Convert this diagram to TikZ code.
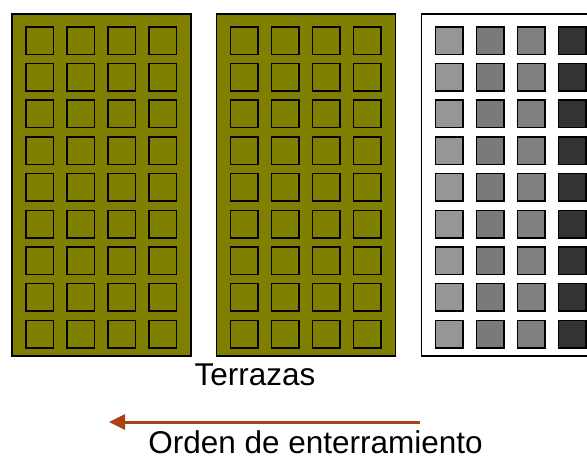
\documentclass[tikz,border=0pt]{standalone}
\usepackage{fontspec}
\setmainfont{Liberation Sans}
\usetikzlibrary{arrows.meta}
\definecolor{terraza}{RGB}{128,128,0}
\definecolor{gris1}{RGB}{150,150,150}
\definecolor{gris2}{RGB}{122,122,122}
\definecolor{gris3}{RGB}{128,128,128}
\definecolor{gris4}{RGB}{51,51,51}
\definecolor{flecha}{RGB}{170,66,20}
\tikzset{
  panel/.style={draw=black,line width=1.5pt},
  hueco/.style={draw=black,line width=1.5pt},
  rotulo/.style={font=\fontsize{31.5}{37}\selectfont,anchor=base,inner sep=0pt,text depth=0pt}
}
\begin{document}
\begin{tikzpicture}[x=1pt,y=-1pt]
      \useasboundingbox (0,0) rectangle (587,461);
      \clip (0,0) rectangle (587,461);
      \draw[panel,fill=terraza] (12,14) rectangle (191,356);
      \draw[panel,fill=terraza] (216.5,14) rectangle (395.5,356);
      \draw[panel,fill=white] (421.5,14) rectangle (600.5,356);
      \begin{scope}[hueco]
        \foreach \ox in {12,216.5}
          \foreach \c in {0,...,3}
            \foreach \r in {0,...,8}
              \draw[fill=terraza] (\ox+13.75+41*\c,26.75+36.7*\r) rectangle ++(27.5,27.5);
        \foreach \c/\g in {0/gris1,1/gris2,2/gris3,3/gris4}
          \foreach \r in {0,...,8}
            \draw[fill=\g] (421.5+13.75+41*\c,26.75+36.7*\r) rectangle ++(27.5,27.5);
      \end{scope}
      \node[rotulo] (terrazas) at (255,385) {Terrazas};
      \coordinate (inicio) at (420,422);
      \coordinate (fin) at (109,422);
      \draw[flecha,line width=3pt,-{Triangle[length=16pt,width=15pt]}] (inicio) -- (fin);
      \node[rotulo] (orden) at (315.5,453.5) {Orden de enterramiento};
    \end{tikzpicture}
\end{document}
